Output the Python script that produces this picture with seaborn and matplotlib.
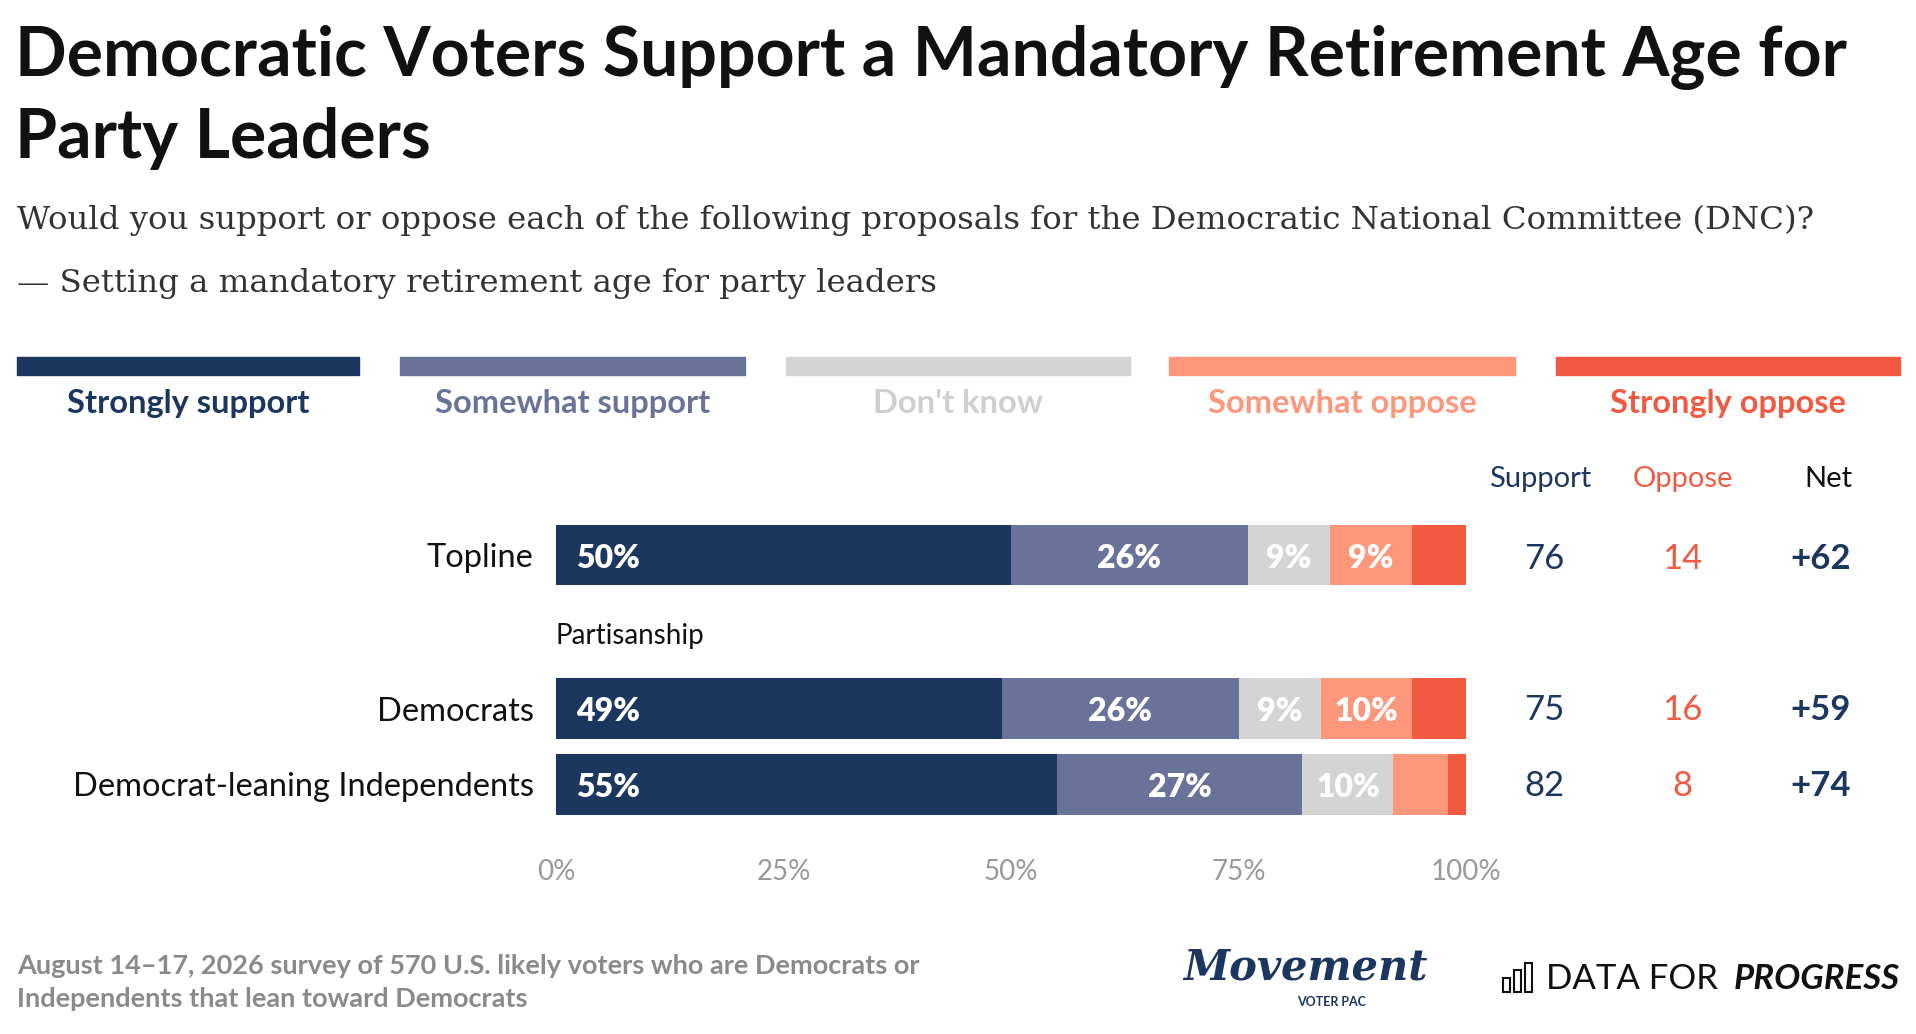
import matplotlib
matplotlib.use("Agg")
import matplotlib.pyplot as plt
import seaborn as sns
import numpy as np

sns.set_theme(style="white")
plt.rcParams['font.family'] = ['Lato', 'DejaVu Sans']

groups = ["Topline", "Democrats", "Democrat-leaning Independents"]
ypos = [0.0, 2.0, 2.98]
series = ["Strongly support", "Somewhat support", "Don't know", "Somewhat oppose", "Strongly oppose"]
values = {
    "Strongly support": [50, 49, 55],
    "Somewhat support": [26, 26, 27],
    "Don't know": [9, 9, 10],
    "Somewhat oppose": [9, 10, 6],
    "Strongly oppose": [6, 6, 2],
}
colors = ["#1b365f", "#69739a", "#d4d4d4", "#fd977c", "#f15a40"]
legend_text_colors = ["#1b365f", "#69739a", "#cfcfcf", "#fd977c", "#f15a40"]
support = [76, 75, 82]
oppose = [14, 16, 8]
net = ["+62", "+59", "+74"]
xticks = [0, 25, 50, 75, 100]
xticklabels = ["0%", "25%", "50%", "75%", "100%"]

W, H = 1568, 846
fig = plt.figure(figsize=(19.16, 10.34), dpi=100)

def fx(x): return x / W
def fy(y): return 1 - y / H

def t(x, y, s, **kw):
    return fig.text(fx(x), fy(y), s, **kw)

navy = "#1b365f"
t(12, 47, "Democratic Voters Support a Mandatory Retirement Age for", fontsize=49, fontweight="bold", color="#111111", va="center")
t(12, 113, "Party Leaders", fontsize=49, fontweight="bold", color="#111111", va="center")
t(14, 180, "Would you support or oppose each of the following proposals for the Democratic National Committee (DNC)?",
  fontsize=23.3, family=["DejaVu Serif"], color="#333333", va="center")
t(14, 232, "— Setting a mandatory retirement age for party leaders", fontsize=23.3, family=["DejaVu Serif"], color="#333333", va="center")

# legend
lx = [(14, 294), (327, 610), (643, 925), (957, 1240), (1273, 1555)]
for (a, b), c, tc, name in zip(lx, colors, legend_text_colors, series):
    fig.patches.append(plt.Rectangle((fx(a), fy(307)), fx(b - a), 15 / H, color=c, transform=fig.transFigure))
    t((a + b) / 2, 330, name, fontsize=23.5, fontweight="bold", color=tc, ha="center", va="center")

# axes
ax = fig.add_axes([fx(455), fy(680), fx(1200) - fx(455), (680 - 410) / H])
left = np.zeros(3)
for name, c in zip(series, colors):
    v = np.array(values[name], dtype=float)
    ax.barh(ypos, v, left=left, height=0.79, color=c, edgecolor="none")
    for i, (y, val, l) in enumerate(zip(ypos, v, left)):
        if val >= 8:
            if name == "Strongly support":
                ax.text(l + 2.2, y + 0.04, f"{int(val)}%", color="white", fontsize=23, fontweight="heavy", va="center", ha="left")
            else:
                ax.text(l + val / 2, y + 0.04, f"{int(val)}%", color="white", fontsize=23, fontweight="heavy", va="center", ha="center")
    left += v
ax.set_xlim(0, 100)
ax.set_ylim(3.59, -0.7)
ax.set_yticks(ypos)
ax.set_yticklabels(groups, fontsize=23.5, color="#111111")
ax.tick_params(axis="y", length=0, pad=16)
ax.set_xticks(xticks)
ax.set_xticklabels(xticklabels, fontsize=20, color="#999999")
ax.tick_params(axis="x", length=0, pad=20)
for s in ax.spines.values():
    s.set_visible(False)
ax.text(0, 1.06, "Partisanship", fontsize=20, color="#111111", va="center", ha="left")

# right columns
t(1260, 392, "Support", fontsize=21, color=navy, ha="center", va="center")
t(1377, 392, "Oppose", fontsize=21, color="#f15a40", ha="center", va="center")
t(1496, 392, "Net", fontsize=21, color="#111111", ha="center", va="center")
rows_y = [457, 581, 643]
for y, s, o, n in zip(rows_y, support, oppose, net):
    t(1264, y, str(s), fontsize=25, color=navy, ha="center", va="center")
    t(1377, y, str(o), fontsize=25, color="#f15a40", ha="center", va="center")
    t(1490, y, n, fontsize=25, color=navy, fontweight="bold", ha="center", va="center")

# footer
t(14, 790, "August 14–17, 2026 survey of 570 U.S. likely voters who are Democrats or", fontsize=19.5, fontweight="bold", color="#8a8a8a", va="center")
t(14, 817, "Independents that lean toward Democrats", fontsize=19.5, fontweight="bold", color="#8a8a8a", va="center")
t(1068, 792, "Movement", fontsize=30, fontweight="bold", style="italic", color=navy, ha="center", va="center", family=["DejaVu Serif"])
t(1090, 820, "VOTER PAC", fontsize=9, fontweight="bold", color=navy, ha="center", va="center")
t(1265, 801, "DATA FOR", fontsize=25, color="#111111", ha="left", va="center")
t(1555, 801, "PROGRESS", fontsize=25, fontweight="bold", style="italic", color="#111111", ha="right", va="center")
for k, h in enumerate([12, 18, 24]):
    fig.patches.append(plt.Rectangle((fx(1230 + k * 9), fy(812)), fx(6), h / H, fill=False, edgecolor="#111111", lw=1.5, transform=fig.transFigure))

fig.savefig("out.png", dpi=100)
